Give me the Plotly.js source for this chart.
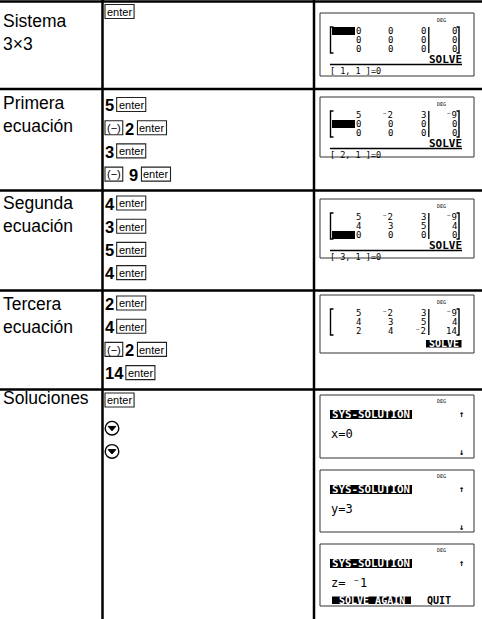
<!DOCTYPE html>
<html><head><meta charset="utf-8">
<script src="https://cdn.plot.ly/plotly-3.0.1.min.js"></script>
<style>html,body{margin:0;padding:0;background:#fff}#chart{width:482px;height:619px}</style>
</head><body><div id="chart"></div>
<script>
// ---------------- data ----------------
const stepLabels = [["Sistema","3×3"],["Primera","ecuación"],["Segunda","ecuación"],["Tercera","ecuación"],["Soluciones"]];
const keyLines = [
  ["[enter]"],
  ["5 [enter]","[(−)] 2 [enter]","3 [enter]","[(−)] _ 9 [enter]"],
  ["4 [enter]","3 [enter]","5 [enter]","4 [enter]"],
  ["2 [enter]","4 [enter]","[(−)] 2 [enter]","14 [enter]"],
  ["[enter]","{down}","{down}"]
];
const coefRows = [[5,-2,3,-9],[4,3,5,4],[2,4,-2,14]];
const rowsEntered = [0,1,2,3];
const solutionVars = ["x","y","z"];
const solutionValues = [0,3,-1];
const modeLabel = "DEG";
const solveLabel = "SOLVE";
const headerLabel = "SYS-SOLUTION";
const footerLabels = ["SOLVE AGAIN","QUIT"];

// ---------------- layout constants ----------------
const W=482,H=619;
const SANS='"Liberation Sans",Arial,sans-serif';
const MONO='"DejaVu Sans Mono","Liberation Mono",monospace';
const rowTops=[1.5,89,190.5,290.5,389.5];
const colX=[102.5,314];
const GRID_W=2.5;
const LABEL_X=3, LABEL_FS=17.5;
const labelBase=[25.5,20,19,20,15];
const KEY_X=105, KEY_STEP=23.2, NUM_FS=16.5, KEY_FS=11;
const keyFirst=[10,15.5,12.5,12.5,10.5];
const SCR_L=320, SCR_R=474;
const matrixTops=[[13,63],[97,60],[199,59],[295,58]];
const solTops=[[395,63],[470,62],[544,62]];

const shapes=[], ann=[];
const cv=document.createElement('canvas').getContext('2d');
function tw(t,font){cv.font=font;return cv.measureText(t).width;}
function line(x0,y0,x1,y1,w,c){shapes.push({type:'line',xref:'x',yref:'y',x0,y0,x1,y1,line:{color:c||'#000',width:w}});}
function rect(x0,y0,x1,y1,lc,lw,fill){shapes.push({type:'rect',xref:'x',yref:'y',x0,y0,x1,y1,line:{color:lc||'#000',width:lw==null?1:lw},fillcolor:fill||'rgba(0,0,0,0)'});}
function path(p,lc,lw,fill){shapes.push({type:'path',xref:'x',yref:'y',path:p,line:{color:lc||'#000',width:lw},fillcolor:fill||'rgba(0,0,0,0)'});}
function text(x,y,t,size,fam,opts){ann.push(Object.assign({xref:'x',yref:'y',x,y,text:t,showarrow:false,font:{family:fam||SANS,size,color:'#000'},xanchor:'left',yanchor:'middle',borderpad:0,borderwidth:0},opts||{}));}

// grid
rowTops.forEach(y=>line(0,y,W,y,GRID_W));
colX.forEach(x=>line(x,0,x,H,GRID_W));

// step labels (one multi-line annotation per row)
stepLabels.forEach((lines,r)=>{
  const b1=rowTops[r]+labelBase[r];
  const yc=b1-0.36*LABEL_FS+(lines.length-1)*LABEL_FS*1.3/2;
  text(LABEL_X,yc,lines.join('<br>'),LABEL_FS,SANS,{align:'left'});
});

// keystrokes
keyLines.forEach((lines,r)=>{
  lines.forEach((ln,i)=>{
    const yc=rowTops[r]+keyFirst[r]+i*KEY_STEP+(r===4&&i>0?5:0);
    let x=KEY_X;
    ln.split(' ').forEach(tok=>{
      if(tok==='_'){x+=4;return;}
      if(tok==='{down}'){
        const cx=x+7, r0=6.8;
        shapes.push({type:'circle',xref:'x',yref:'y',x0:cx-r0,x1:cx+r0,y0:yc-r0,y1:yc+r0,line:{color:'#000',width:1.4}});
        path(`M ${cx-3.8} ${yc-1.8} L ${cx+3.8} ${yc-1.8} L ${cx} ${yc+2.6} Z`,'#000',1,'#000');
        x+=17;
      } else if(tok.startsWith('[')){
        const lab=tok.slice(1,-1);
        const w=tw(lab,`${KEY_FS}px ${SANS}`)+4;
        rect(x,yc-7,x+w,yc+7,'#222',1.1);
        text(x+w/2,yc+0.3,lab,KEY_FS,SANS,{xanchor:'center'});
        x+=w+3;
      } else {
        const w=tw(tok,`bold ${NUM_FS}px ${SANS}`);
        text(x-0.5,yc+0.8,`<b>${tok}</b>`,NUM_FS,SANS);
        x+=w+2.5;
      }
    });
  });
});

function calcNum(v){return v<0?'⁻'+Math.abs(v):String(v);}
const MAT_COLS=[360.5,392.5,426,457];
// matrix editor screens
matrixTops.forEach(([T,h],s)=>{
  rect(SCR_L,T,SCR_R,T+h,'#333',1);
  text(441,T+6.5,modeLabel,5,MONO,{xanchor:'center'});
  const y0=T+14,y1=T+40;
  path(`M 333.5 ${y0} L 330.5 ${y0} L 330.5 ${y1} L 333.5 ${y1}`,'#000',1.4);
  path(`M 456.5 ${y0} L 459 ${y0} L 459 ${y1} L 456.5 ${y1}`,'#000',1.4);
  line(428.8,y0,428.8,y1,1.3);
  const k=rowsEntered[s];
  for(let r=0;r<3;r++){
    const yc=T+18+r*9;
    for(let c=0;c<4;c++){
      const v=r<k?coefRows[r][c]:0;
      text(MAT_COLS[c],yc,calcNum(v),9,MONO,{xanchor:'right'});
    }
  }
  if(k<3){
    rect(332,T+18+k*9-4,355,T+18+k*9+4,'#000',0,'#000');
    text(461.5,T+46,`<b>${solveLabel}</b>`,11,MONO,{xanchor:'right'});
    line(330,T+51.5,462,T+51.5,1.5);
    text(330,T+58,`[ ${k+1}, 1 ]=0`,8.5,MONO);
  } else {
    rect(426,T+45,461.5,T+52.5,'#000',0,'#000');
    text(443.7,T+48.8,`<b>${solveLabel}</b>`,10,MONO,{xanchor:'center',font:{family:MONO,size:10,color:'#fff'}});
  }
});

// solution screens
solTops.forEach(([T,h],s)=>{
  rect(SCR_L,T,SCR_R,T+h,'#333',1);
  text(441,T+6,modeLabel,5,MONO,{xanchor:'center'});
  rect(330,T+15,412,T+24,'#000',0,'#000');
  text(371,T+19.6,`<b>${headerLabel}</b>`,10.8,MONO,{xanchor:'center',font:{family:MONO,size:10.8,color:'#fff'}});
  text(461,T+19,'<b>↑</b>',9,MONO,{xanchor:'center'});
  const v=solutionValues[s];
  text(331,T+39,`${solutionVars[s]}=${v<0?' ':''}${calcNum(v)}`,12,MONO);
  if(s<solTops.length-1){
    text(461,T+57,'<b>↓</b>',9,MONO,{xanchor:'center'});
  } else {
    rect(332,T+52.5,411,T+60,'#000',0,'#000');
    text(371.5,T+56.3,`<b>${footerLabels[0]}</b>`,10,MONO,{xanchor:'center',font:{family:MONO,size:10,color:'#fff'}});
    text(438.5,T+56.3,`<b>${footerLabels[1]}</b>`,10,MONO,{xanchor:'center'});
  }
});

Plotly.newPlot('chart',[],{
  width:W,height:H,margin:{l:0,r:0,t:0,b:0},
  paper_bgcolor:'#fff',plot_bgcolor:'#fff',
  xaxis:{range:[0,W],visible:false,fixedrange:true},
  yaxis:{range:[H,0],visible:false,fixedrange:true},
  shapes,annotations:ann,showlegend:false
},{staticPlot:true});
</script></body></html>
